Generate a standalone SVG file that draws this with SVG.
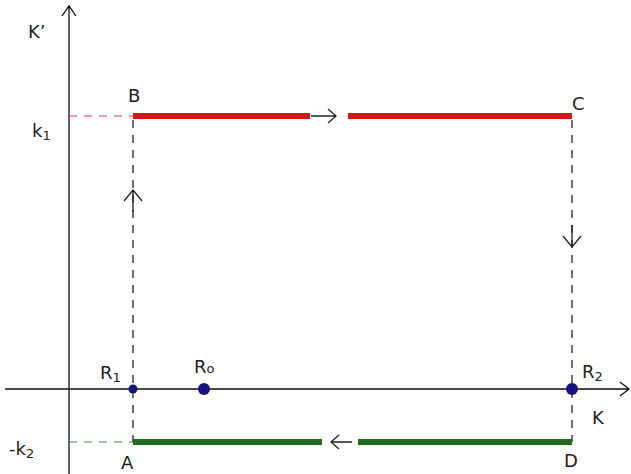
<svg xmlns="http://www.w3.org/2000/svg" width="631" height="474" viewBox="0 0 631 474">
<style>
text{font-family:"DejaVu Sans","Liberation Sans",sans-serif;font-size:18px;fill:#222}
.sub{font-size:13px}
.axis{stroke:#111;stroke-width:1.3;fill:none}
.dash{stroke:#222;stroke-width:1.3;stroke-dasharray:8,7;fill:none}
.rdash{stroke:#c44;stroke-width:1.2;stroke-dasharray:8,7;fill:none}
.gdash{stroke:#4a8a4a;stroke-width:1.2;stroke-dasharray:8,7;fill:none}
.red{stroke:#d21a1a;stroke-width:6;fill:none}
.green{stroke:#1e6e1e;stroke-width:6;fill:none}
.arr{stroke:#222;stroke-width:1.3;fill:none}
.dot{fill:#14147a}
</style>
<rect width="631" height="474" fill="#fff"/>
<g id="axes">
<path class="axis" d="M69,474 V6 M62,16 L69,6 L76,16"/>
<path class="axis" d="M5,389 H629 M620,382 L629,389 L620,396"/>
<text x="28" y="38">K’</text>
<text x="592" y="424">K</text>
</g>
<g id="connectors">
<path class="rdash" d="M69,116 H133"/>
<path class="gdash" d="M69,442 H133"/>
<path class="dash" d="M133,120 V442"/>
<path class="dash" d="M572,120 V442"/>
<path class="red" d="M133,116 H310 M348,116 H572"/>
<path class="green" d="M133,442 H322 M358,442 H572"/>
<path class="arr" d="M311,116 H336 M328,109 L336,116 L328,123"/>
<path class="arr" d="M352,442 H331 M339,435 L331,442 L339,449"/>
<path class="arr" d="M133,190 V212 M124,201 L133,190 L142,201"/>
<path class="arr" d="M572,225 V247 M563,236 L572,247 L581,236"/>
</g>
<g id="B"><text x="128" y="102">B</text></g>
<g id="C"><text x="572" y="110">C</text></g>
<g id="A"><text x="121" y="469">A</text></g>
<g id="D"><text x="564" y="467">D</text></g>
<g id="k1"><text x="32" y="137">k<tspan class="sub" dy="3">1</tspan></text></g>
<g id="k2"><text x="9" y="455">-k<tspan class="sub" dy="3">2</tspan></text></g>
<g id="R1"><circle class="dot" cx="133" cy="389" r="4.5"/><text x="100" y="379">R<tspan class="sub" dy="3">1</tspan></text></g>
<g id="R0"><circle class="dot" cx="204" cy="389" r="6"/><text x="194" y="373">R<tspan class="sub">o</tspan></text></g>
<g id="R2"><circle class="dot" cx="572" cy="389" r="6"/><text x="582" y="378">R<tspan class="sub" dy="3">2</tspan></text></g>
</svg>
